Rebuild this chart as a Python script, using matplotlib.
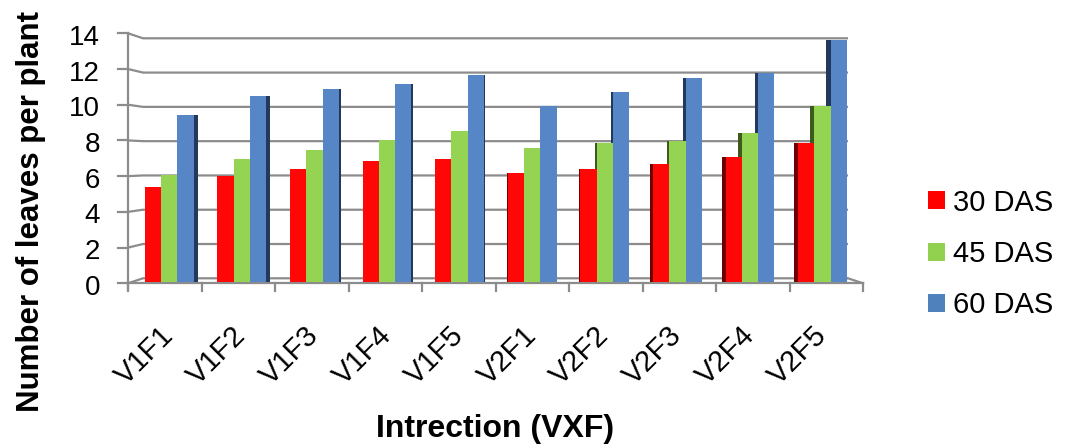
import matplotlib
matplotlib.use("Agg")
import matplotlib.pyplot as plt
from matplotlib.patches import Rectangle, Patch

plt.rcParams["font.family"] = ["Liberation Sans", "DejaVu Sans"]

# 叶片数数据
categories = ["V1F1", "V1F2", "V1F3", "V1F4", "V1F5",
              "V2F1", "V2F2", "V2F3", "V2F4", "V2F5"]
das30 = [5.4, 6.0, 6.4, 6.9, 7.0, 6.2, 6.4, 6.7, 7.1, 7.9]
das45 = [6.1, 7.0, 7.5, 8.1, 8.6, 7.6, 7.9, 8.0, 8.5, 10.0]
das60 = [9.5, 10.6, 11.0, 11.3, 11.8, 10.0, 10.8, 11.6, 11.9, 13.8]
series_names = ["30 DAS", "45 DAS", "60 DAS"]
y_ticks = [0, 2, 4, 6, 8, 10, 12, 14]

front_colors = ["#FF0707", "#95D353", "#5686C6"]
side_colors = ["#6E0000", "#3E5A1C", "#22395C"]
grid_color = "#8c8c8c"

W, H = 1066, 448
fig = plt.figure(figsize=(W / 100, H / 100), dpi=100)

# 背景层：像素坐标，画仿 3D 的坐标框和网格
bg = fig.add_axes([0, 0, 1, 1], zorder=0)
bg.set_xlim(0, W)
bg.set_ylim(H, 0)
bg.axis("off")

ymax = y_ticks[-1]


def front_y(v):
    return 283.3 - 250.0 / ymax * v


def back_y(v):
    return 278.3 - 240.0 / ymax * v


x_front_l, x_back_l, x_back_r, x_front_r = 128, 143, 848, 863
lw = 1.6

for v in y_ticks:
    bg.plot([x_front_l, x_back_l, x_back_r], [front_y(v), back_y(v), back_y(v)],
            color=grid_color, lw=lw, solid_capstyle="butt")
    bg.plot([x_front_l - 10, x_front_l], [front_y(v), front_y(v)],
            color=grid_color, lw=lw)
    bg.text(x_front_l - 28, front_y(v) + 4.5, str(v), ha="right", va="center",
            fontsize=20)

# 左侧竖轴和底部前沿
bg.plot([x_front_l, x_front_l], [front_y(0) + 7, front_y(ymax)], color=grid_color, lw=lw)
bg.plot([x_front_l, x_front_r], [front_y(0), front_y(0)], color=grid_color, lw=lw)
bg.plot([x_back_r, x_front_r], [back_y(0), front_y(0)], color=grid_color, lw=lw)
cat_w = (x_front_r - x_front_l) / len(categories)
for k in range(len(categories) + 1):
    xk = x_front_l + k * cat_w
    bg.plot([xk, xk], [front_y(0), front_y(0) + 8], color=grid_color, lw=lw)

# 柱子层
left_px, right_px = 132.9, 858.9
base_px, top_px = 281.5, 36.5
ax = fig.add_axes([left_px / W, (H - base_px) / H,
                   (right_px - left_px) / W, (base_px - top_px) / H], zorder=1)
ax.patch.set_visible(False)
for s in ax.spines.values():
    s.set_visible(False)
ax.set_xlim(-0.5, len(categories) - 0.5)
ax.set_ylim(0, ymax)
ax.set_yticks([])

px_per_cat = (right_px - left_px) / len(categories)
bar_w = 16.3 / px_per_cat
center = (len(categories) - 1) / 2

for j, vals in enumerate([das30, das45, das60]):
    for i, v in enumerate(vals):
        x0 = i + (j - 1) * bar_w - bar_w / 2
        sw = abs(i - center) * 1.0 / px_per_cat
        if i < center:
            sx = x0 + bar_w
        else:
            sx = x0 - sw
        ax.add_patch(Rectangle((sx, 0), sw, v, facecolor=side_colors[j],
                               edgecolor="none", zorder=2))
        ax.add_patch(Rectangle((x0, 0), bar_w, v, facecolor=front_colors[j],
                               edgecolor="none", zorder=3))

ax.set_xticks(range(len(categories)))
ax.set_xticklabels(categories, rotation=45, ha="right", va="center",
                   rotation_mode="anchor", fontsize=21)
ax.tick_params(axis="x", length=0, pad=36)

# 坐标轴标题
fig.text(31 / W, 1 - 211 / H, "Number of leaves per plant", rotation=90,
         ha="center", va="center", fontsize=22.5, fontweight="bold")
fig.text(495 / W, 1 - 429 / H, "Intrection (VXF)", ha="center", va="center",
         fontsize=23, fontweight="bold")

handles = [Patch(facecolor=c, edgecolor="none") for c in ["#FF0000", "#92D050", "#4F81BD"]]
fig.legend(handles, series_names, loc="center left", bbox_to_anchor=(913 / W, 1 - 254 / H),
           frameon=False, fontsize=21, handlelength=0.58, handleheight=0.58,
           handletextpad=0.3, labelspacing=0.8, borderpad=0)

fig.savefig("out.png", dpi=100)
